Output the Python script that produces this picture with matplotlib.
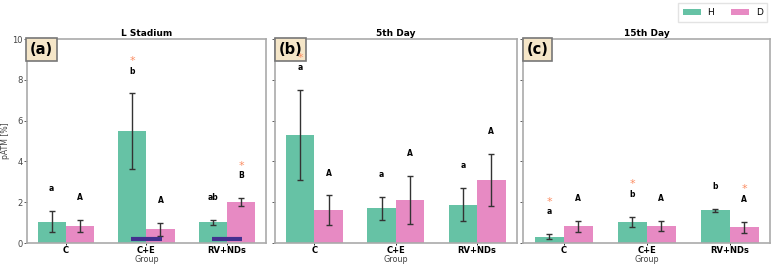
import numpy as np
import matplotlib
matplotlib.use('Agg')
import matplotlib.pyplot as plt

groups = ['C', 'C+E', 'RV+NDs']
panel_titles = ['L Stadium', '5th Day', '15th Day']
panel_tags = ['(a)', '(b)', '(c)']

# means and errors per panel, H then D
h_mean = [[1.05, 5.49, 1.01], [5.29, 1.70, 1.88], [0.31, 1.03, 1.60]]
h_err = [[0.50, 1.84, 0.14], [2.20, 0.55, 0.82], [0.12, 0.24, 0.08]]
d_mean = [[0.83, 0.67, 1.99], [1.60, 2.09, 3.07], [0.82, 0.83, 0.77]]
d_err = [[0.28, 0.32, 0.20], [0.73, 1.18, 1.28], [0.27, 0.23, 0.27]]

h_letters = [['a', 'b', 'ab'], ['a', 'a', 'a'], ['a', 'b', 'b']]
d_letters = [['A', 'A', 'B'], ['A', 'A', 'A'], ['A', 'A', 'A']]
# stars marking significance
h_star = [[False, True, False], [True, False, False], [True, True, False]]
d_star = [[False, False, True], [False, False, False], [False, False, True]]
# purple baseline marks (panel a only)
base_marks = [[False, True, True], [False, False, False], [False, False, False]]

c_h = '#66c2a5'
c_d = '#e78ac3'
c_star = '#fc8d62'
c_mark = '#43308f'

fig = plt.figure(figsize=(7.72, 2.64), dpi=100)
pos = [(0.0346, 0.3100), (0.3562, 0.3130), (0.6780, 0.3196)]
bottom, height = 0.0795, 0.7727

w = 0.35
x = np.arange(len(groups))
axes = []
for p in range(3):
    ax = fig.add_axes([pos[p][0], bottom, pos[p][1], height])
    axes.append(ax)
    ax.bar(x - w/2, h_mean[p], w, color=c_h, label='H', zorder=2)
    ax.bar(x + w/2, d_mean[p], w, color=c_d, label='D', zorder=2)
    ax.errorbar(x - w/2, h_mean[p], yerr=h_err[p], fmt='none', ecolor='#333333',
                elinewidth=1, capsize=2, capthick=1, zorder=3)
    ax.errorbar(x + w/2, d_mean[p], yerr=d_err[p], fmt='none', ecolor='#333333',
                elinewidth=1, capsize=2, capthick=1, zorder=3)
    for i in range(len(groups)):
        top_h = h_mean[p][i] + h_err[p][i]
        top_d = d_mean[p][i] + d_err[p][i]
        ax.text(x[i] - w/2, top_h + 1.1, h_letters[p][i], ha='center', va='center',
                fontsize=5.5, fontweight='bold', zorder=4)
        ax.text(x[i] + w/2, top_d + 1.1, d_letters[p][i], ha='center', va='center',
                fontsize=5.5, fontweight='bold', zorder=4)
        if h_star[p][i]:
            ax.text(x[i] - w/2, top_h + 1.6, '*', ha='center', va='center',
                    fontsize=8, color=c_star, zorder=6)
        if d_star[p][i]:
            ax.text(x[i] + w/2, top_d + 1.6, '*', ha='center', va='center',
                    fontsize=8, color=c_star, zorder=6)
        if base_marks[p][i]:
            ax.hlines(0.21, x[i] - 0.19, x[i] + 0.19, color=c_mark, lw=3, zorder=4)
    ax.set_ylim(0, 10)
    ax.set_yticks(np.arange(0, 11, 2))
    ax.set_xticks(x)
    ax.set_xticklabels(groups, fontweight='bold', fontsize=5.8)
    ax.set_xlabel('Group', fontsize=5.8, labelpad=0, color='#444444')
    ax.set_title(panel_titles[p], fontsize=6.5, fontweight='bold', pad=2)
    ax.tick_params(axis='both', labelsize=6, length=2, width=0.6, pad=1, colors='#444444')
    ax.tick_params(axis='x', colors='black', length=1.5, pad=0.5)
    if p > 0:
        ax.set_yticklabels([])
    for s in ax.spines.values():
        s.set_color('#aaaaaa')
        s.set_linewidth(1.2)
    ax.text(0.014, 0.985, panel_tags[p], transform=ax.transAxes, ha='left', va='top',
            fontsize=10.5, fontweight='bold', zorder=5,
            bbox=dict(boxstyle='square,pad=0.25', facecolor='#f5e6c8', edgecolor='#777777', lw=1.2))

axes[0].set_ylabel('pATM [%]', fontsize=5.6, labelpad=1.5, color='#444444')

handles, labels = axes[2].get_legend_handles_labels()
fig.legend(handles, labels, loc='upper right', bbox_to_anchor=(1.0, 1.004), ncol=2,
           fontsize=6.5, handlelength=2.0, handleheight=0.7, columnspacing=1.9,
           handletextpad=0.7, frameon=True, edgecolor='#dddddd', fancybox=False,
           borderpad=0.55)

fig.savefig('out.png', dpi=100)
